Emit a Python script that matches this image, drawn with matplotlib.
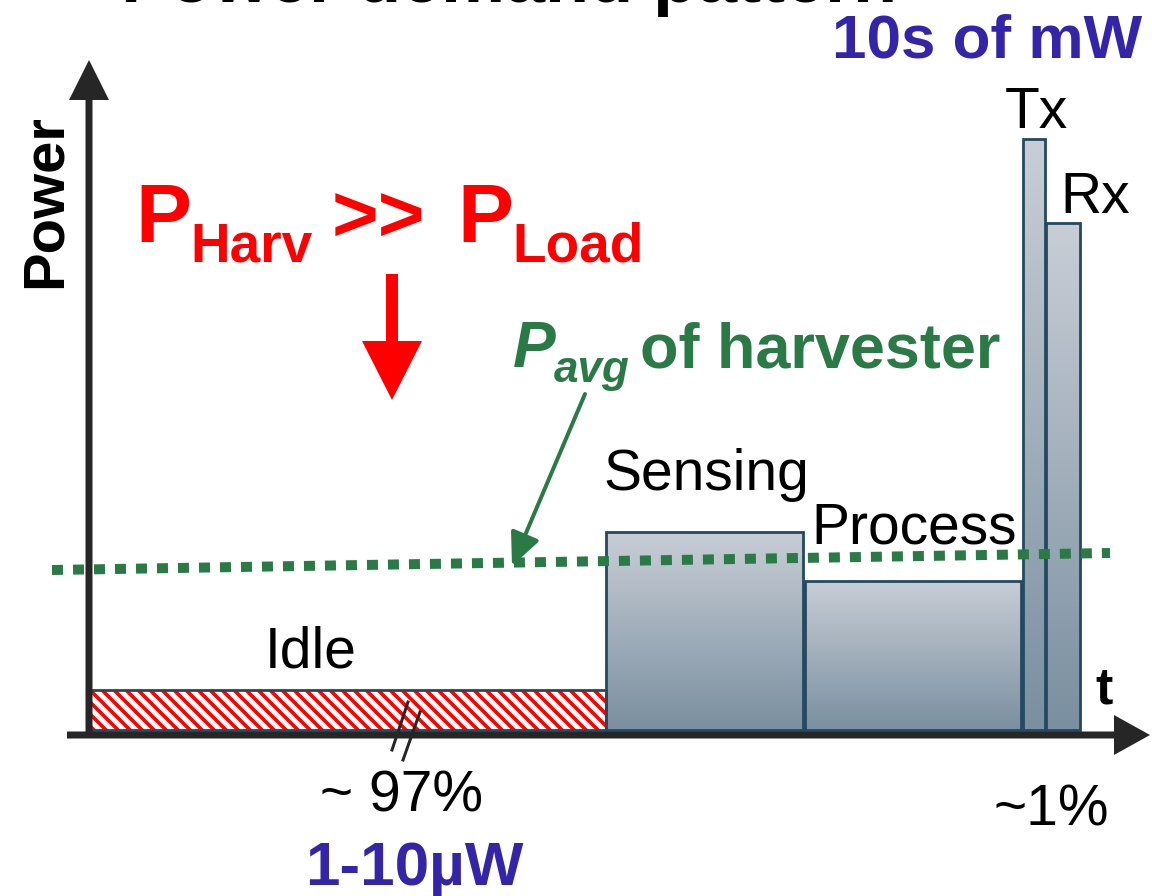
import numpy as np
import matplotlib
matplotlib.use("Agg")
import matplotlib.pyplot as plt
from matplotlib.colors import LinearSegmentedColormap

plt.rcParams["font.family"] = ["Liberation Sans", "DejaVu Sans"]
plt.rcParams["hatch.linewidth"] = 3.6

# phases of the duty cycle (time start / duration / power level, in drawing units)
phases = ["Idle", "Sensing", "Process", "Tx", "Rx"]
phase_start = [89, 606, 805, 1023, 1046]
phase_width = [517, 197, 216, 22, 34]
phase_power = [40, 198, 149, 591, 507]

# average harvested power (dotted line), left and right end
pavg_t = [52, 1110]
pavg_level = [160, 177]

BASE = 730  # pixel row of the time axis


def Y(py):
    return BASE - py


fig = plt.figure(figsize=(1152 / 72, 896 / 72), dpi=72)
ax = fig.add_axes([0, 0, 1, 1])
ax.axis("off")

edge = "#244a60"
grad_cmap = LinearSegmentedColormap.from_list("bar", ["#7a8fa0", "#c9ced6"])

# idle segment: red / white hatch
ax.bar(phase_start[0], phase_power[0], width=phase_width[0], align="edge",
       facecolor="white", edgecolor="#ff0000", hatch="\\\\", linewidth=0, zorder=2)

bars = ax.bar(phase_start, phase_power, width=phase_width, align="edge",
              facecolor="none", edgecolor=edge, linewidth=2.8, zorder=3)
grad = np.linspace(0, 1, 256).reshape(-1, 1)
for i, b in enumerate(bars):
    if i == 0:
        continue
    x0, w, h = phase_start[i], phase_width[i], phase_power[i]
    im = ax.imshow(grad, extent=[x0, x0 + w, 0, h], origin="lower",
                   aspect="auto", cmap=grad_cmap, zorder=2)
    im.set_clip_path(b)

# average power of harvester
ax.plot(pavg_t, pavg_level, color="#2a7a45", linewidth=10,
        linestyle=(0, (1.1, 1.0)), dash_capstyle="butt", zorder=4)

# axes
axc = "#262626"
ax.arrow(89, -8, 0, 678, width=7, head_width=40, head_length=40,
         length_includes_head=True, fc=axc, ec="none", zorder=5)
ax.arrow(67, -5, 1083, 0, width=7, head_width=40, head_length=36,
         length_includes_head=True, fc=axc, ec="none", zorder=5)

# axis break marks
ax.plot([408, 392], [Y(702), Y(750)], color=axc, lw=3, zorder=6)
ax.plot([420, 403], [Y(712), Y(760)], color=axc, lw=3, zorder=6)

# red arrow
ax.arrow(392, Y(274), 0, -126, width=12, head_width=60, head_length=59,
         length_includes_head=True, fc="#ff0000", ec="none", zorder=5)

# green annotation arrow
ax.annotate("", xy=(512, Y(566)), xytext=(585, Y(394)),
            arrowprops=dict(arrowstyle="-|>,head_length=0.7,head_width=0.32",
                            color="#2a7a45", lw=4, mutation_scale=40,
                            shrinkA=0, shrinkB=0), zorder=5)

# texts
ax.text(509, Y(2), "Power demand pattern", fontsize=72, fontweight="bold",
        ha="center", va="baseline", color="black")
ax.text(1142, Y(58), "10s of mW", fontsize=62, fontweight="bold",
        ha="right", va="baseline", color="#3424a8")
ax.text(46, Y(201), "Power", fontsize=58, fontweight="bold", rotation=90,
        ha="center", va="center", color="black")
ax.text(1104, Y(703), "t", fontsize=52, fontweight="bold", ha="center",
        va="baseline", color="black")

lab = dict(fontsize=57, ha="left", va="baseline", color="black")
ax.text(1005, Y(128), "Tx", **lab)
ax.text(1060, Y(213), "Rx", **lab)
ax.text(603, Y(490), "Sensing", **lab)
ax.text(811, Y(543), "Process", **lab)
ax.text(265, Y(668), "Idle", **lab)
ax.text(320, Y(812), "~ 97%", **lab)
ax.text(993, Y(825), "~1%", **lab)
ax.text(305, Y(885), "1-10\u00b5W", fontsize=62, fontweight="bold",
        ha="left", va="baseline", color="#3424a8")

red = dict(fontweight="bold", ha="left", va="baseline", color="#ff0000")
ax.text(135, Y(242), "P", fontsize=84, **red)
ax.text(190, Y(262), "Harv", fontsize=55, **red)
ax.text(332, Y(242), ">>", fontsize=80, **red)
ax.text(457, Y(242), "P", fontsize=84, **red)
ax.text(512, Y(262), "Load", fontsize=55, **red)

grn = dict(fontweight="bold", ha="left", va="baseline", color="#2a7a45")
ax.text(513, Y(367), "P", fontsize=64, style="italic", **grn)
ax.text(554, Y(382), "avg", fontsize=44, style="italic", **grn)
ax.text(640, Y(367), "of harvester", fontsize=63, **grn)

ax.set_xlim(0, 1152)
ax.set_ylim(BASE - 896, BASE)

fig.savefig("out.png", dpi=72, facecolor="white")
